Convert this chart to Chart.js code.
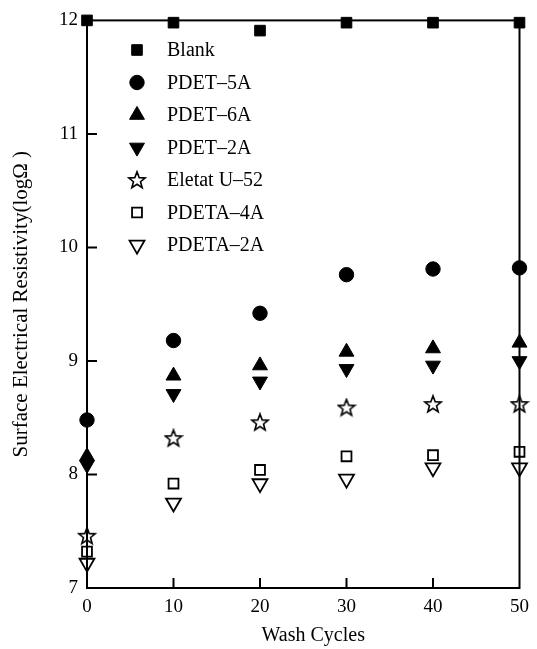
<!DOCTYPE html>
<html>
<head>
<meta charset="utf-8">
<script src="https://cdn.jsdelivr.net/npm/chart.js@4/dist/chart.umd.min.js"></script>
<style>
  html, body { margin: 0; padding: 0; background: #fff; }
  .chart-box { width: 537px; height: 649px; }
</style>
</head>
<body>
<div class="chart-box"><canvas id="c"></canvas></div>
<script>
// Surface resistivity vs. wash cycles
const washCycles = [0, 10, 20, 30, 40, 50]
const blank   = [12.0, 11.98, 11.91, 11.98, 11.98, 11.98]
const pdet5a  = [8.48, 9.18, 9.42, 9.76, 9.81, 9.82]
const pdet6a  = [8.16, 8.87, 8.96, 9.08, 9.11, 9.16]
const pdet2a  = [8.085, 8.71, 8.82, 8.93, 8.96, 9.00]
const eletat  = [7.46, 8.32, 8.46, 8.59, 8.62, 8.62]
const pdeta4a = [7.32, 7.92, 8.04, 8.16, 8.17, 8.20]
const pdeta2a = [7.22, 7.75, 7.92, 7.96, 8.06, 8.06]
const yTicks = [7, 8, 9, 10, 11, 12]
const xTicks = [0, 10, 20, 30, 40, 50]

const FONT = "'Liberation Serif', 'Times New Roman', serif"

// open five-point star marker
function starImage() {
  const c = document.createElement('canvas')
  c.width = 20
  c.height = 20
  const g = c.getContext('2d')
  g.beginPath()
  for (let i = 0; i < 10; i++) {
    const r = i % 2 === 0 ? 8.8 : 3.7
    const a = -Math.PI / 2 + i * Math.PI / 5
    const px = 10 + r * Math.cos(a)
    const py = 10.6 + r * Math.sin(a)
    if (i === 0) g.moveTo(px, py)
    else g.lineTo(px, py)
  }
  g.closePath()
  g.fillStyle = '#fff'
  g.fill()
  g.lineWidth = 1.6
  g.strokeStyle = '#000'
  g.stroke()
  return c
}

const pts = (ys) => washCycles.map((x, i) => ({ x, y: ys[i] }))

const series = [
  { label: 'Blank', data: blank, style: 'rect', radius: 7.5, fill: '#000', rot: 0 },
  { label: 'PDET\u20135A', data: pdet5a, style: 'circle', radius: 7.2, fill: '#000', rot: 0 },
  { label: 'PDET\u20136A', data: pdet6a, style: 'triangle', radius: 8.6, fill: '#000', rot: 0 },
  { label: 'PDET\u20132A', data: pdet2a, style: 'triangle', radius: 8.6, fill: '#000', rot: 180 },
  { label: 'Eletat U\u201352', data: eletat, style: starImage(), radius: 9, fill: '#fff', rot: 0 },
  { label: 'PDETA\u20134A', data: pdeta4a, style: 'rect', radius: 7, fill: '#fff', rot: 0 },
  { label: 'PDETA\u20132A', data: pdeta2a, style: 'triangle', radius: 8.6, fill: '#fff', rot: 180 }
]

// box frame, inward ticks, x title and legend inside the plot
const framePlugin = {
  id: 'frame',
  afterDatasetsDraw(chart) {
    const { ctx, chartArea: a, scales } = chart
    ctx.save()
    ctx.strokeStyle = '#000'
    ctx.lineWidth = 2
    ctx.strokeRect(a.left, a.top, a.right - a.left, a.bottom - a.top)
    ctx.beginPath()
    yTicks.slice(1, -1).forEach((v) => {
      const y = scales.y.getPixelForValue(v)
      ctx.moveTo(a.left, y)
      ctx.lineTo(a.left + 10, y)
    })
    xTicks.slice(1, -1).forEach((v) => {
      const x = scales.x.getPixelForValue(v)
      ctx.moveTo(x, a.bottom)
      ctx.lineTo(x, a.bottom - 10)
    })
    ctx.stroke()

    ctx.fillStyle = '#000'
    ctx.font = '20px ' + FONT
    ctx.textAlign = 'center'
    ctx.textBaseline = 'middle'
    ctx.fillText('Wash Cycles', (a.left + a.right) / 2 + 10, a.bottom + 48)

    // legend
    const lx = 137
    const tx = 167
    let ly = 50
    ctx.textAlign = 'left'
    chart.data.datasets.forEach((ds) => {
      ctx.fillStyle = ds.backgroundColor
      ctx.strokeStyle = '#000'
      ctx.lineWidth = ds.borderWidth
      Chart.helpers.drawPoint(ctx, {
        pointStyle: ds.pointStyle,
        radius: ds.pointRadius,
        rotation: ds.rotation,
        borderWidth: ds.borderWidth
      }, lx, ly)
      ctx.fillStyle = '#000'
      ctx.fillText(ds.label, tx, ly + 1)
      ly += 32.5
    })
    ctx.restore()
  }
}

new Chart(document.getElementById('c'), {
  type: 'scatter',
  data: {
    datasets: series.map((s) => ({
      label: s.label,
      data: pts(s.data),
      pointStyle: s.style,
      pointRadius: s.radius,
      pointHoverRadius: s.radius,
      rotation: s.rot,
      backgroundColor: s.fill,
      borderColor: '#000',
      borderWidth: s.fill === '#fff' ? 1.8 : 1,
      clip: false
    }))
  },
  options: {
    responsive: true,
    maintainAspectRatio: false,
    animation: false,
    layout: { padding: { top: 18, right: 14, left: 0, bottom: 0 } },
    scales: {
      x: {
        type: 'linear',
        min: 0,
        max: 50,
        afterFit: (s) => { s.height = 61 },
        afterBuildTicks: (s) => { s.ticks = xTicks.map((v) => ({ value: v })) },
        grid: { display: false, drawTicks: false },
        border: { display: true, color: '#000', width: 2 },
        ticks: { color: '#000', padding: 8, font: { family: FONT, size: 19 } }
      },
      y: {
        type: 'linear',
        min: 7,
        max: 12,
        afterFit: (s) => { s.width = 87 },
        afterBuildTicks: (s) => { s.ticks = yTicks.map((v) => ({ value: v })) },
        grid: { display: false, drawTicks: false },
        border: { display: true, color: '#000', width: 2 },
        ticks: { color: '#000', padding: 9, font: { family: FONT, size: 19 } },
        title: {
          display: true,
          text: 'Surface Electrical Resistivity(log\u03a9 )',
          color: '#000',
          padding: { top: 9, bottom: 0 },
          font: { family: FONT, size: 21 }
        }
      }
    },
    plugins: {
      legend: { display: false },
      tooltip: { enabled: false }
    }
  },
  plugins: [framePlugin]
})
</script>
</body>
</html>
